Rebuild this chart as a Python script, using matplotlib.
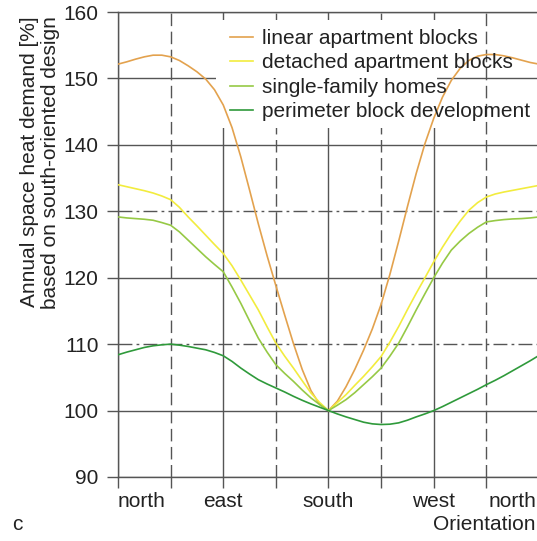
import numpy as np
import matplotlib.pyplot as plt
import matplotlib.transforms as mtransforms
from matplotlib.patches import Rectangle

plt.rcParams['font.family'] = ['Liberation Sans', 'DejaVu Sans']

# orientation in degrees, north = 0, east = 90, south = 180, west = 270
angles = np.arange(0, 360.1, 7.5)

linear = [152.15, 152.5, 152.9, 153.25, 153.5, 153.5, 153.25, 152.7, 151.9, 151.0,
          149.9, 148.3, 146.0, 142.6, 138.2, 133.2, 128.1, 123.3, 118.8, 114.4,
          110.1, 106.2, 103.0, 100.9, 100.0,
          101.4, 103.6, 106.2, 109.1, 112.3, 116.0, 120.5, 125.5, 130.7, 135.7,
          140.2, 144.0, 147.2, 149.7, 151.5, 152.7, 153.35, 153.6, 153.6, 153.4,
          153.1, 152.75, 152.4, 152.15]
detached = [134.0, 133.7, 133.4, 133.1, 132.75, 132.3, 131.75, 130.6, 129.15, 127.8,
            126.4, 125.0, 123.65, 121.8, 119.65, 117.4, 115.15, 112.6, 110.15, 108.2,
            106.4, 104.5, 102.65, 101.2, 100.0,
            101.2, 102.4, 103.8, 105.15, 106.6, 108.15, 110.3, 112.65, 115.2, 117.65,
            120.0, 122.4, 124.6, 126.65, 128.5, 130.15, 131.3, 132.15, 132.6, 132.9,
            133.15, 133.4, 133.65, 133.9]
single = [129.15, 129.0, 128.9, 128.8, 128.65, 128.3, 127.9, 126.9, 125.65, 124.4,
          123.15, 122.0, 120.9, 118.6, 116.15, 113.5, 110.9, 108.8, 106.9, 105.6,
          104.4, 103.1, 101.9, 100.9, 100.0,
          100.8, 101.65, 102.7, 103.9, 105.1, 106.4, 108.2, 110.15, 112.6, 115.15,
          117.6, 120.0, 122.2, 124.15, 125.5, 126.65, 127.6, 128.4, 128.6, 128.75,
          128.85, 128.9, 129.0, 129.15]
perimeter = [108.4, 108.8, 109.15, 109.5, 109.75, 109.9, 110.0, 109.85, 109.65, 109.4,
             109.15, 108.75, 108.25, 107.4, 106.4, 105.5, 104.65, 104.0, 103.4, 102.8,
             102.15, 101.55, 101.0, 100.5, 100.0,
             99.5, 99.05, 98.65, 98.25, 98.0, 97.9, 97.95, 98.15, 98.55, 99.05,
             99.5, 100.0, 100.6, 101.25, 101.9, 102.55, 103.2, 103.9, 104.55, 105.25,
             106.0, 106.75, 107.5, 108.3]

labels = ['linear apartment blocks', 'detached apartment blocks',
          'single-family homes', 'perimeter block development']
colors = ['#E3A24E', '#F2EC3E', '#96C945', '#2F9A3B']

xticks = [0, 45, 90, 135, 180, 225, 270, 315, 360]
xticklabels = ['north', '', 'east', '', 'south', '', 'west', '', 'north']
yticks = [90, 100, 110, 120, 130, 140, 150, 160]

W, H = 537, 541
fig = plt.figure(figsize=(W / 100, H / 100), dpi=100)
ax = fig.add_axes([118 / W, 1 - 477 / H, 421 / W, 465 / H])

for series, lab, col in zip([linear, detached, single, perimeter], labels, colors):
    ax.plot(angles, series, color=col, lw=1.2, label=lab, zorder=3)

ax.set_xlim(0, 360)
ax.set_ylim(90, 160)
ax.set_xticks(xticks)
ax.set_xticklabels(xticklabels)
ax.set_yticks(yticks)
ax.tick_params(axis='both', labelsize=15, length=8, width=1.0, color='#555555',
               labelcolor='#222222')
ax.tick_params(axis='x', pad=3)
ax.tick_params(axis='y', pad=6)

xl = ax.get_xticklabels()
xl[0].set_ha('left')
xl[-1].set_ha('right')
xl[-1].set_transform(xl[-1].get_transform() +
                     mtransforms.ScaledTranslation(-3 / 100, 0, fig.dpi_scale_trans))

ax.grid(True, color='#555555', lw=1.0)
for val, gl in zip(yticks, ax.get_ygridlines()):
    if val in (110, 130):
        gl.set_dashes([10, 3, 2, 3])
for val, gl in zip(xticks, ax.get_xgridlines()):
    if val % 90 != 0:
        gl.set_dashes([9, 4])

ax.spines['right'].set_visible(False)
for s in ['left', 'bottom', 'top']:
    ax.spines[s].set_color('#555555')
    ax.spines[s].set_linewidth(1.0)

# white panel behind the legend that hides the grid there
ax.add_patch(Rectangle((84, 142.6), 189, 16.2, facecolor='white',
                       edgecolor='none', zorder=2))

leg = ax.legend(loc='upper left', bbox_to_anchor=(230 / W, 1 - 29 / H),
                bbox_transform=fig.transFigure, frameon=False, fontsize=15,
                handlelength=1.1, handletextpad=0.45, labelspacing=0.26,
                borderpad=0, borderaxespad=0)
for t in leg.get_texts():
    t.set_color('#222222')

fig.text(40 / W, 1 - 16 / H, 'Annual space heat demand [%]\nbased on south-oriented design',
         rotation=90, ha='center', va='top', multialignment='right',
         fontsize=15, color='#222222', linespacing=1.15)
fig.text(536 / W, 1 - 525 / H, 'Orientation', ha='right', va='center',
         fontsize=15, color='#222222')
fig.text(17 / W, 1 - 525 / H, 'c', ha='center', va='center',
         fontsize=15, color='#222222')

fig.savefig('out.png', dpi=100)
